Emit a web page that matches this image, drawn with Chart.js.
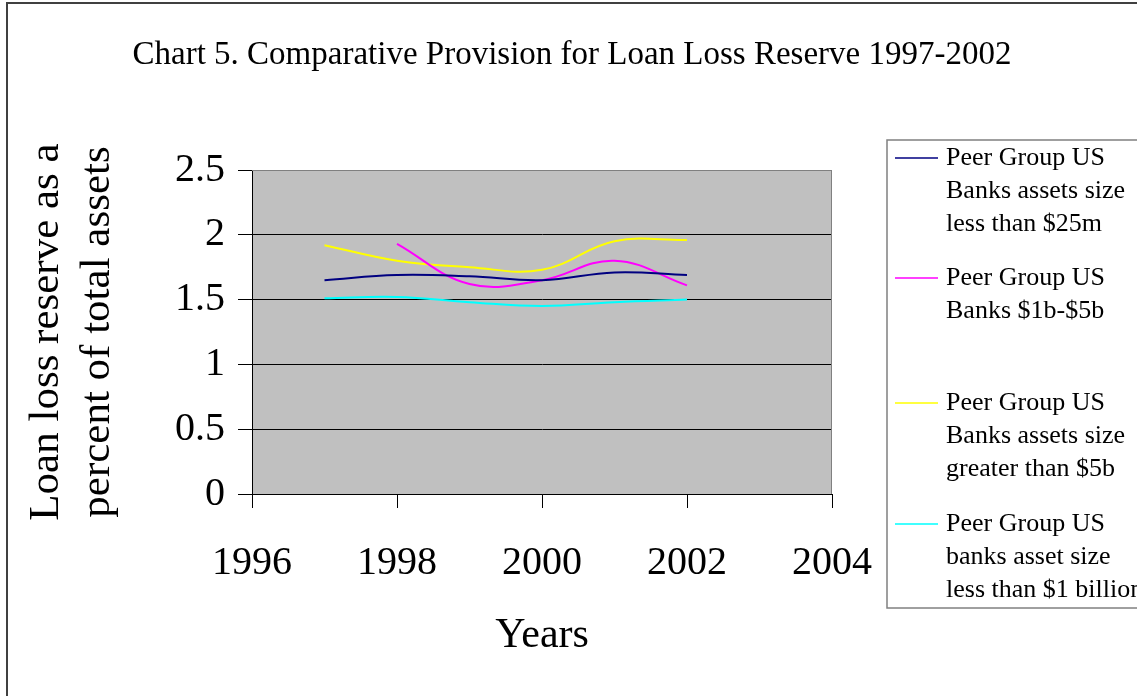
<!DOCTYPE html>
<html>
<head>
<meta charset="utf-8">
<script src="https://cdn.jsdelivr.net/npm/chart.js@4/dist/chart.umd.min.js"></script>
<style>
  html, body { margin: 0; padding: 0; background: #ffffff; }
  #wrap { width: 1137px; height: 696px; position: relative; }
</style>
</head>
<body>
<div id="wrap"><canvas id="c" width="1137" height="696"></canvas></div>
<script>
// Loan loss reserve as a percent of total assets, by year
const years = [1997, 1998, 1999, 2000, 2001, 2002];
const under25m   = [1.65, 1.69, 1.68, 1.65, 1.71, 1.69];
const from1bTo5b = [null, 1.93, 1.62, 1.65, 1.80, 1.61];
const over5b     = [1.92, 1.80, 1.75, 1.73, 1.95, 1.96];
const under1b    = [1.51, 1.52, 1.48, 1.45, 1.48, 1.50];

const seriesNames = [
  ['Peer Group US', 'Banks assets size', 'less than $25m'],
  ['Peer Group US', 'Banks $1b-$5b'],
  ['Peer Group US', 'Banks assets size', 'greater than $5b'],
  ['Peer Group US', 'banks asset size', 'less than $1 billion']
];
const seriesValues = [under25m, from1bTo5b, over5b, under1b];
const seriesColors = ['#000080', '#FF00FF', '#FFFF00', '#00FFFF'];

const xTicks = [1996, 1998, 2000, 2002, 2004];
const yTicks = [0, 0.5, 1, 1.5, 2, 2.5];

const titleText = 'Chart 5. Comparative Provision for Loan Loss Reserve 1997-2002';
const xTitle = 'Years';
const yTitle = ['Loan loss reserve as a', 'percent of total assets'];

const SERIF = '"Liberation Serif", "Times New Roman", serif';

const datasets = seriesValues.map((vals, i) => ({
  label: seriesNames[i].join(' '),
  data: years.map((yr, j) => ({ x: yr, y: vals[j] })),
  borderColor: seriesColors[i],
  backgroundColor: seriesColors[i],
  borderWidth: 2,
  pointRadius: 0,
  tension: 0.4,
  spanGaps: false,
  fill: false
}));

// Frame, plot background, titles and the boxed legend
const decor = {
  id: 'decor',
  beforeDraw(chart) {
    const { ctx, chartArea: a } = chart;
    ctx.save();
    ctx.fillStyle = '#ffffff';
    ctx.fillRect(0, 0, chart.width, chart.height);
    ctx.strokeStyle = '#404040';
    ctx.lineWidth = 2;
    ctx.strokeRect(7, 3, chart.width + 10, chart.height + 10);
    ctx.fillStyle = '#C0C0C0';
    ctx.fillRect(a.left, a.top, a.right - a.left, a.bottom - a.top);
    ctx.restore();
  },
  beforeDatasetsDraw(chart) {
    const { ctx, chartArea: a } = chart;
    ctx.save();
    ctx.strokeStyle = '#808080';
    ctx.lineWidth = 1;
    ctx.beginPath();
    ctx.moveTo(a.left, a.top + 0.5);
    ctx.lineTo(a.right - 0.5, a.top + 0.5);
    ctx.lineTo(a.right - 0.5, a.bottom);
    ctx.stroke();
    ctx.restore();
  },
  afterDraw(chart) {
    const { ctx, chartArea: a } = chart;
    ctx.save();
    ctx.fillStyle = '#000000';
    ctx.textAlign = 'center';
    ctx.textBaseline = 'middle';
    ctx.font = '33px ' + SERIF;
    ctx.fillText(titleText, 572, 55);

    ctx.font = '42px ' + SERIF;
    ctx.fillText(xTitle, (a.left + a.right) / 2, 636);

    ctx.save();
    ctx.font = '43px ' + SERIF;
    ctx.translate(0, (a.top + a.bottom) / 2);
    ctx.rotate(-Math.PI / 2);
    ctx.fillText(yTitle[0], 0, 47);
    ctx.fillText(yTitle[1], 0, 98);
    ctx.restore();

    // legend box
    const lx = 887, ly = 140, lb = 608;
    ctx.strokeStyle = '#808080';
    ctx.lineWidth = 1.5;
    ctx.strokeRect(lx, ly, chart.width - lx + 10, lb - ly);
    const starts = [158, 278, 403, 524];
    ctx.font = '26px ' + SERIF;
    ctx.textAlign = 'left';
    seriesNames.forEach((lines, i) => {
      const y0 = starts[i];
      ctx.strokeStyle = seriesColors[i];
      ctx.lineWidth = 1.5;
      ctx.beginPath();
      ctx.moveTo(895, y0);
      ctx.lineTo(938, y0);
      ctx.stroke();
      lines.forEach((t, k) => ctx.fillText(t, 946, y0 + k * 33));
    });
    ctx.restore();
  }
};

new Chart(document.getElementById('c'), {
  type: 'line',
  data: { datasets },
  plugins: [decor],
  options: {
    responsive: false,
    animation: false,
    devicePixelRatio: 1,
    layout: { padding: { left: 0, top: 170, right: 305, bottom: 0 } },
    plugins: { legend: { display: false }, title: { display: false }, tooltip: { enabled: false } },
    scales: {
      x: {
        type: 'linear',
        min: 1996,
        max: 2004,
        afterFit(s) { s.height = 202; },
        afterBuildTicks(s) { s.ticks = xTicks.map(v => ({ value: v })); },
        ticks: {
          callback: v => String(v),
          color: '#000',
          font: { family: SERIF, size: 40 },
          padding: 31,
          maxRotation: 0
        },
        grid: { drawOnChartArea: false, drawTicks: true, tickLength: 14, color: '#000', lineWidth: 1 },
        border: { color: '#000', width: 1 }
      },
      y: {
        min: 0,
        max: 2.5,
        afterFit(s) { s.width = 252; },
        afterBuildTicks(s) { s.ticks = yTicks.map(v => ({ value: v })); },
        ticks: {
          callback: v => String(v),
          color: '#000',
          font: { family: SERIF, size: 40 },
          padding: 13
        },
        grid: {
          drawTicks: true,
          tickLength: 14,
          color: c => (c.tick && c.tick.value === 2.5 ? '#808080' : '#000'),
          tickColor: '#000',
          lineWidth: 1
        },
        border: { color: '#000', width: 1 }
      }
    }
  }
});
</script>
</body>
</html>
